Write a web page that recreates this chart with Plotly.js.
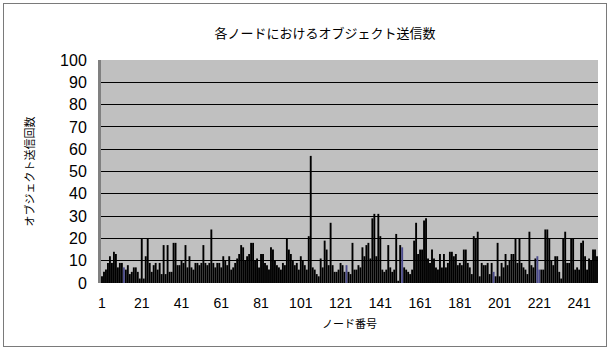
<!DOCTYPE html>
<html>
<head>
<meta charset="utf-8">
<script src="https://cdn.plot.ly/plotly-3.0.1.min.js"></script>
<style>
  html, body { margin: 0; padding: 0; background: #ffffff; }
  #wrap { position: relative; width: 610px; height: 349px; }
  #chart { position: absolute; left: 0; top: 0; width: 610px; height: 349px; }
  #frame { position: absolute; left: 3px; top: 3px; width: 602px; height: 342px; border: 1px solid #7a7a7a; pointer-events: none; }
</style>
</head>
<body>
<div id="wrap"><div id="chart"></div><div id="frame"></div></div>
<script>
// ---- data ----
const chartTitle = "各ノードにおけるオブジェクト送信数";
const xTitle = "ノード番号";
const yTitle = "オブジェクト送信回数";

const sendCounts1 = [3,5,6,9,12,9,14,13,7,9,9,7,6,8,4,5,7,7,5,2,20,2,12,20,9,5,8,9,6,9,4,17,4,17,5,5,18,18,8,8];
const sendCounts2 = [10,9,17,7,12,7,6,9,9,8,9,17,9,8,9,24,9,7,9,9,7,12,10,8,12,6,7,9,11,13,17,16,10,12,13,18,18,10,11,7,13,13];
const sendCounts3 = [9,8,6,16,15,10,8,7,6,9,8,20,15,13,10,8,9,6,12,10,8,6,21,57,7,6,4,3,11,7,19,15,8,27,8,5,5,6,9,8,5,8];
const sendCounts4 = [5,4,18,6,6,8,7,16,12,17,18,11,29,31,12,31,21,6,5,6,17,7,5,6,22,1,17,16,7,6,5,4,6,19,27,13,15,15,28,29,11,9];
const sendCounts5 = [15,11,7,6,13,7,13,7,9,14,14,12,13,8,9,8,15,15,9,7,4,21,20,23,3,9,8,8,9,4,9,5,3,18,3,9,7,13,8,10,13,13];
const sendCounts6 = [20,9,20,9,7,6,4,23,8,7,11,12,6,6,6,24,24,20,10,8,12,12,5,2,20,23,9,9,20,20,6,7,6,18,19,12,6,11,10,15,15,12];
const sendCounts = [].concat(sendCounts1, sendCounts2, sendCounts3, sendCounts4, sendCounts5, sendCounts6);
const nodes = sendCounts.map((_, i) => i + 1);
const xTickVals = [1, 21, 41, 61, 81, 101, 121, 141, 161, 181, 201, 221, 241];
const yTickVals = [0, 10, 20, 30, 40, 50, 60, 70, 80, 90, 100];

// nodes drawn in the slate-blue tone
const blueNodes = [12, 124, 152, 198, 220, 221];

const barColors = nodes.map(n => blueNodes.includes(n) ? "#4b4b8c" : "#000000");

const numFont = "Liberation Sans, Arial, sans-serif";
const jpFont = "Noto Sans CJK JP, sans-serif";

Plotly.newPlot("chart", [{
  type: "bar",
  x: nodes,
  y: sendCounts,
  marker: { color: barColors, line: { width: 0 } },
  hoverinfo: "x+y"
}], {
  width: 610,
  height: 349,
  margin: { l: 101, r: 12, t: 60, b: 66 },
  paper_bgcolor: "rgba(0,0,0,0)",
  plot_bgcolor: "#c0c0c0",
  bargap: 0.05,
  showlegend: false,
  title: {
    text: chartTitle,
    font: { family: jpFont, size: 13, color: "#000" },
    x: 0.533, xanchor: "center", xref: "container",
    y: 0.905, yanchor: "middle", yref: "container"
  },
  xaxis: {
    range: [0.5, sendCounts.length + 0.5],
    tickmode: "array",
    tickvals: xTickVals,
    ticktext: xTickVals.map(String),
    ticks: "",
    ticklabelstandoff: 10,
    showgrid: false,
    zeroline: false,
    showline: false,
    tickfont: { family: numFont, size: 14, color: "#000" },
    title: { text: xTitle, font: { family: jpFont, size: 11, color: "#000" }, standoff: 10 }
  },
  yaxis: {
    range: [0, 100],
    tickmode: "array",
    tickvals: yTickVals,
    ticks: "",
    ticklabelstandoff: 8,
    showgrid: true,
    gridcolor: "#000000",
    gridwidth: 1,
    zeroline: false,
    showline: true,
    linecolor: "#808080",
    linewidth: 3,
    tickfont: { family: numFont, size: 16, color: "#000" },
    title: { text: yTitle, font: { family: jpFont, size: 11, color: "#000" }, standoff: 24 }
  }
}, { staticPlot: true, displayModeBar: false });
</script>
</body>
</html>
